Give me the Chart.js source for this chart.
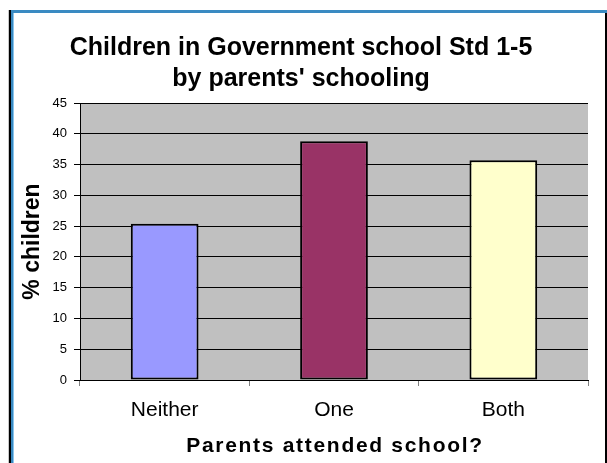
<!DOCTYPE html>
<html>
<head>
<meta charset="utf-8">
<script src="https://cdn.jsdelivr.net/npm/chart.js@4"></script>
<style>
  body { margin: 0; background: #fff; }
  canvas { display: block; }
</style>
</head>
<body>
<canvas id="bar-chart" width="607" height="463"></canvas>
<script>
const titleLines = ["Children in Government school Std 1-5", "by parents' schooling"];
const categories = ["Neither", "One", "Both"];
const percentChildren = [25.4, 38.8, 35.7];
const barColours = ["#9999FF", "#993366", "#FFFFCC"];
const yMax = 45;
const yStep = 5;
const yTitle = "% children";
const xTitle = "Parents attended school?";

const fontFamily = "'Liberation Sans', Arial, sans-serif";

// grey plot area, like the old Excel default
const plotBackground = {
    id: "plotBackground",
    beforeDraw(chart) {
        const { ctx, chartArea: a } = chart;
        ctx.save();
        ctx.fillStyle = "#C0C0C0";
        ctx.fillRect(a.left, a.top, a.right - a.left, a.bottom - a.top);
        ctx.restore();
    }
};

// x axis title is letter-spaced in the original, chart.js can't do that itself
const spacedXTitle = {
    id: "spacedXTitle",
    afterDraw(chart) {
        const { ctx, chartArea: a } = chart;
        ctx.save();
        ctx.font = "bold 21px " + fontFamily;
        ctx.letterSpacing = "1.7px";
        ctx.fillStyle = "#000";
        ctx.textAlign = "center";
        ctx.textBaseline = "alphabetic";
        ctx.fillText(xTitle, (a.left + a.right) / 2 + 1, 452);
        ctx.restore();
    }
};

// the outer frame: black + blue on the left, blue on top, black on the right
const outerFrame = {
    id: "outerFrame",
    afterDraw(chart) {
        const ctx = chart.ctx;
        const w = chart.width, h = chart.height;
        ctx.save();
        ctx.fillStyle = "#C8C8C8";
        ctx.fillRect(8, 10, 1, h - 10);
        ctx.fillStyle = "#000";
        ctx.fillRect(9, 10, 2, h - 10);
        ctx.fillStyle = "#3A8AC2";
        ctx.fillRect(11, 12, 2, h - 12);
        ctx.fillStyle = "#8CC6EC";
        ctx.fillRect(13, 13, 1, h - 13);
        ctx.fillStyle = "#3A8AC2";
        ctx.fillRect(11, 10, w - 11, 3);
        ctx.fillStyle = "#000";
        ctx.fillRect(w - 2, 13, 2, h - 13);
        ctx.restore();
    }
};

new Chart(document.getElementById("bar-chart"), {
    type: "bar",
    data: {
        labels: categories,
        datasets: [{
            data: percentChildren,
            backgroundColor: barColours,
            borderColor: "#000",
            borderWidth: 2,
            borderSkipped: false,
            categoryPercentage: 1,
            barPercentage: 0.4
        }]
    },
    options: {
        responsive: false,
        animation: false,
        devicePixelRatio: 1,
        layout: { padding: { left: 14, right: 19, top: 0, bottom: 0 } },
        plugins: {
            legend: { display: false },
            tooltip: { enabled: false },
            title: {
                display: true,
                text: titleLines,
                color: "#000",
                font: { family: fontFamily, size: 25, weight: "bold", lineHeight: 1.24 },
                padding: { top: 33, bottom: 8 }
            }
        },
        scales: {
            x: {
                grid: { offset: true, drawOnChartArea: false, tickLength: 6, color: "#808080" },
                border: { color: "#000", width: 1 },
                ticks: { color: "#000", font: { family: fontFamily, size: 21 }, padding: 12 },
                title: { display: false },
                afterFit(scale) { scale.height = 83; }
            },
            y: {
                min: 0,
                max: yMax,
                grid: { color: "#000", tickLength: 6 },
                border: { color: "#000", width: 1 },
                ticks: { stepSize: yStep, color: "#000", font: { family: fontFamily, size: 13 }, padding: 7 },
                title: {
                    display: true,
                    text: yTitle,
                    color: "#000",
                    font: { family: fontFamily, size: 23, weight: "bold" },
                    padding: { top: 5, bottom: 0 }
                },
                afterFit(scale) { scale.width = 66; }
            }
        }
    },
    plugins: [plotBackground, spacedXTitle, outerFrame]
});
</script>
</body>
</html>
